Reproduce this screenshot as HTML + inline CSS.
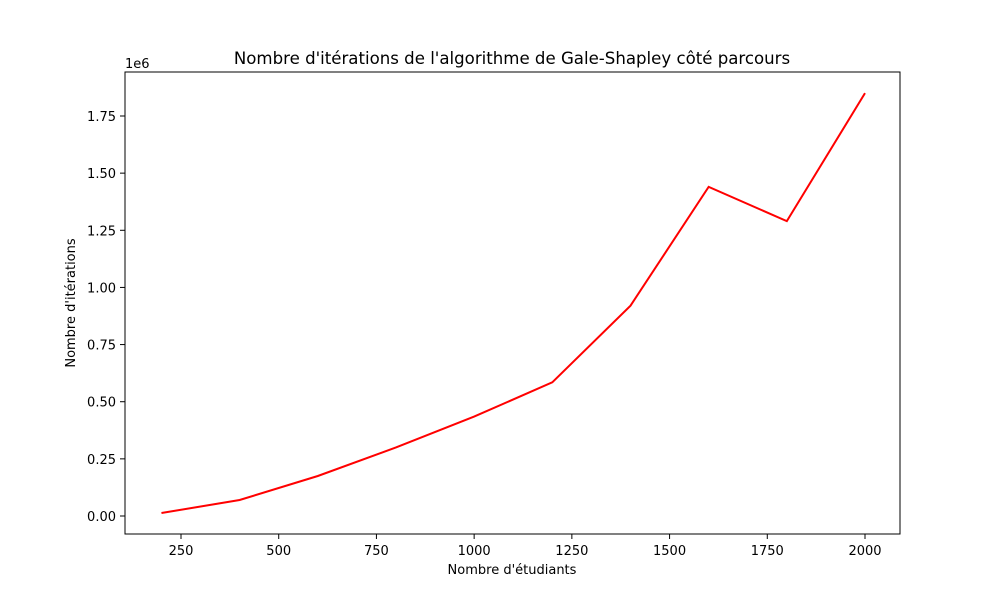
<!DOCTYPE html>
<html><head><meta charset="utf-8"><style>
body{margin:0;background:#fff;}
svg{font-family:"DejaVu Sans","Liberation Sans",sans-serif;}
</style></head><body>
<svg id="chart" width="1000" height="600">
<rect x="0" y="0" width="1000" height="600" fill="#fff"/>
<text x="512" y="64" font-size="16.6" text-anchor="middle">Nombre d'itérations de l'algorithme de Gale-Shapley côté parcours</text>
<g id="xt"></g><g id="yt"></g>
<path id="line" fill="none" stroke="#ff0000" stroke-width="2"/>
<rect x="125" y="72" width="775" height="462" fill="none" stroke="#000" stroke-width="1"/>
<text x="125" y="68" font-size="13">1e6</text>
<text x="512" y="574" font-size="13" text-anchor="middle">Nombre d'étudiants</text>
<text x="75" y="303" font-size="13" text-anchor="middle" transform="rotate(-90 75 303)">Nombre d'itérations</text>
</svg>
<script>
const xValues=[200,400,600,800,1000,1200,1400,1600,1800,2000];
const yValues=[0.013,0.07,0.175,0.30,0.435,0.585,0.92,1.44,1.29,1.85];
const xTicks=[250,500,750,1000,1250,1500,1750,2000];
const yTicks=[0,0.25,0.5,0.75,1.0,1.25,1.5,1.75];
const yTickLabels=["0.00","0.25","0.50","0.75","1.00","1.25","1.50","1.75"];
const NS="http://www.w3.org/2000/svg";
function sx(v){return 181+(v-250)*(865-181)/1750;}
function sy(v){return 516-v*(400/1.75);}
const xt=document.getElementById('xt'),yt=document.getElementById('yt');
xTicks.forEach(t=>{
 const l=document.createElementNS(NS,'line');
 l.setAttribute('x1',sx(t));l.setAttribute('x2',sx(t));l.setAttribute('y1',534);l.setAttribute('y2',539);l.setAttribute('stroke','#000');
 
 
 xt.appendChild(l);
 const tx=document.createElementNS(NS,'text');
 tx.setAttribute('x',sx(t));tx.setAttribute('y',555);tx.setAttribute('font-size','13');tx.setAttribute('text-anchor','middle');tx.textContent=t;
 
 
 xt.appendChild(tx);
});
yTicks.forEach((t,i)=>{
 const l=document.createElementNS(NS,'line');
 l.setAttribute('x1',120);l.setAttribute('x2',125);l.setAttribute('y1',sy(t));l.setAttribute('y2',sy(t));l.setAttribute('stroke','#000');
 
 
 yt.appendChild(l);
 const tx=document.createElementNS(NS,'text');
 tx.setAttribute('x',116);tx.setAttribute('y',sy(t)+5);tx.setAttribute('font-size','13');tx.setAttribute('text-anchor','end');tx.textContent=yTickLabels[i];
 
 
 yt.appendChild(tx);
});
document.getElementById('line').setAttribute('d',xValues.map((x,i)=>(i?'L':'M')+sx(x)+' '+sy(yValues[i])).join(' '));
</script>
</body></html>
